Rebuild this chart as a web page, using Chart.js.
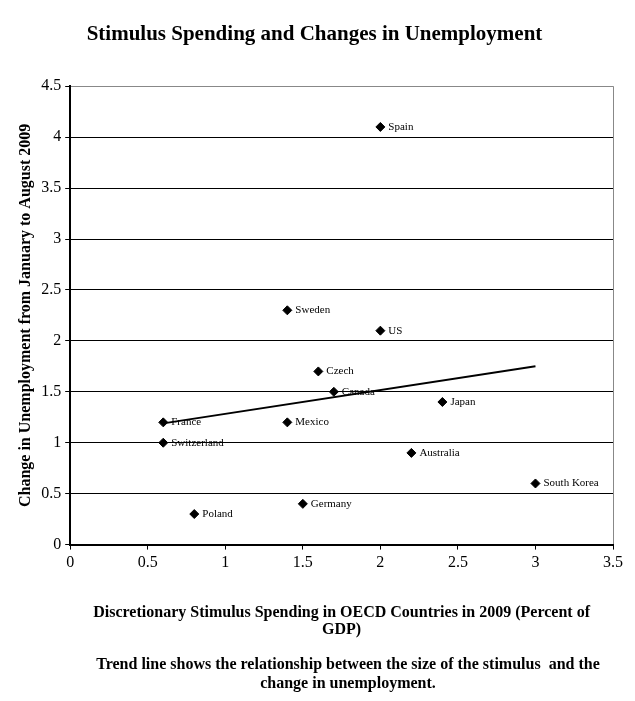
<!DOCTYPE html>
<html>
<head>
  <meta charset="UTF-8" />
  <title>Stimulus Spending and Changes in Unemployment</title>
  <script src="https://cdn.jsdelivr.net/npm/chart.js"></script>
  <style>
    body {
      margin: 0;
      background-color: #ffffff;
    }
    #wrap {
      position: relative;
      width: 635px;
      height: 701px;
    }
  </style>
</head>
<body>
  <div id="wrap">
    <canvas id="grafico" width="635" height="701"></canvas>
  </div>

  <script>
    const paises = ['Spain', 'Sweden', 'US', 'Czech', 'Canada', 'Japan', 'France',
      'Mexico', 'Switzerland', 'Australia', 'South Korea', 'Germany', 'Poland'];
    const estimulo = [2, 1.4, 2, 1.6, 1.7, 2.4, 0.6, 1.4, 0.6, 2.2, 3, 1.5, 0.8];
    const desemprego = [4.1, 2.3, 2.1, 1.7, 1.5, 1.4, 1.2, 1.2, 1.0, 0.9, 0.6, 0.4, 0.3];
    const tendenciaX = [0.6, 3];
    const tendenciaY = [1.19, 1.75];

    const serif = "'Liberation Serif', 'DejaVu Serif', serif";

    // nomes dos paises ao lado de cada ponto
    const rotulos = {
      id: 'rotulos',
      afterDatasetsDraw(chart) {
        const ctx = chart.ctx;
        const meta = chart.getDatasetMeta(0);
        ctx.save();
        ctx.font = '11px ' + serif;
        ctx.fillStyle = '#000';
        ctx.textBaseline = 'middle';
        ctx.textAlign = 'left';
        meta.data.forEach((p, i) => {
          ctx.fillText(paises[i], p.x + 8, p.y);
        });
        ctx.restore();
      }
    };

    // nota abaixo do eixo x
    const nota = {
      id: 'nota',
      afterDraw(chart) {
        const ctx = chart.ctx;
        ctx.save();
        ctx.font = 'bold 16px ' + serif;
        ctx.fillStyle = '#000';
        ctx.textAlign = 'center';
        ctx.textBaseline = 'middle';
        ctx.fillText('Trend line shows the relationship between the size of the stimulus  and the', 348, 665);
        ctx.fillText('change in unemployment.', 348, 684);
        ctx.restore();
      }
    };

    const ctx = document.getElementById('grafico').getContext('2d');
    new Chart(ctx, {
      data: {
        datasets: [{
          type: 'scatter',
          data: estimulo.map((x, i) => ({ x: x, y: desemprego[i] })),
          backgroundColor: '#000',
          borderColor: '#000',
          pointStyle: 'rectRot',
          pointRadius: 4.5,
          order: 1
        }, {
          type: 'line',
          data: tendenciaX.map((x, i) => ({ x: x, y: tendenciaY[i] })),
          borderColor: '#000',
          borderWidth: 2,
          pointRadius: 0,
          fill: false,
          order: 2
        }]
      },
      options: {
        responsive: false,
        animation: false,
        layout: { padding: { left: 16, right: 22, top: 0, bottom: 62 } },
        plugins: {
          legend: { display: false },
          tooltip: { enabled: false },
          title: {
            display: true,
            text: 'Stimulus Spending and Changes in Unemployment',
            color: '#000',
            font: { family: serif, size: 21, weight: 'bold' },
            padding: { top: 22, bottom: 39 }
          }
        },
        scales: {
          x: {
            type: 'linear',
            min: 0,
            max: 3.5,
            ticks: {
              stepSize: 0.5,
              color: '#000',
              font: { family: serif, size: 16 },
              padding: 4,
              callback: v => String(v)
            },
            grid: {
              color: c => c.tick && c.tick.value === 3.5 ? '#888' : 'rgba(0,0,0,0)',
              tickColor: '#000',
              tickLength: 5,
              lineWidth: 1
            },
            border: { color: '#000', width: 2 },
            title: {
              display: true,
              text: ['Discretionary Stimulus Spending in OECD Countries in 2009 (Percent of', 'GDP)'],
              color: '#000',
              font: { family: serif, size: 16, weight: 'bold', lineHeight: 1.1 },
              padding: { top: 27, bottom: 0 }
            }
          },
          y: {
            min: 0,
            max: 4.5,
            ticks: {
              stepSize: 0.5,
              color: '#000',
              font: { family: serif, size: 16 },
              padding: 4,
              callback: v => String(v)
            },
            grid: {
              color: c => c.tick && c.tick.value === 4.5 ? '#888' : '#000',
              tickColor: '#000',
              tickLength: 5,
              lineWidth: 1
            },
            border: { color: '#000', width: 2 },
            title: {
              display: true,
              text: 'Change in Unemployment from January to August 2009',
              color: '#000',
              font: { family: serif, size: 16, weight: 'bold' },
              padding: { top: 0, bottom: 2 }
            }
          }
        }
      },
      plugins: [rotulos, nota]
    });
  </script>
</body>
</html>
